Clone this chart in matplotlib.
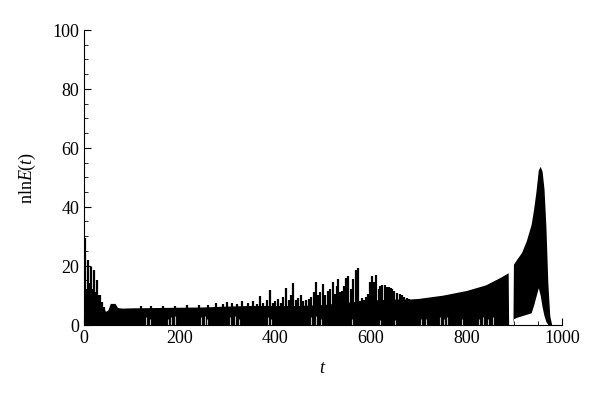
import matplotlib
matplotlib.use('Agg')
import matplotlib.pyplot as plt
from matplotlib.ticker import MultipleLocator

plt.rcParams['font.family'] = 'Liberation Serif'
plt.rcParams['mathtext.fontset'] = 'custom'
plt.rcParams['mathtext.rm'] = 'Liberation Serif'
plt.rcParams['mathtext.it'] = 'Liberation Serif:italic'

# Сплошная чёрная полоса сигнала (верхняя и нижняя огибающие)
env_t = [0, 10, 20, 30, 40, 45, 50, 55, 65, 70, 80, 100, 150, 200, 250, 300,
         350, 400, 450, 500, 540, 580, 620, 660, 682, 700, 750, 800, 840, 870,
         887, 888, 897, 898, 905, 915, 925, 935, 940, 945, 950, 954, 958, 962,
         966, 970, 974, 978, 1000]
env_top = [12, 10, 9, 8, 6, 4.5, 5, 7.2, 7.2, 5.8, 5.6, 5.7, 5.8, 5.9, 6.0,
           6.3, 6.5, 6.5, 6.5, 6.8, 7.5, 8.0, 8.5, 8.7, 8.7, 8.9, 10.0, 11.6,
           13.5, 16.0, 17.6, 0, 0, 20.5, 22.2, 24.5, 28.5, 34.0, 39.0, 45.0,
           52.5, 53.7, 52.0, 46.0, 33.0, 14.0, 3.0, 0, 0]
env_bottom = [0, 0, 0, 0, 0, 0, 0, 0, 0, 0, 0, 0, 0, 0, 0, 0,
              0, 0, 0, 0, 0, 0, 0, 0, 0, 0, 0, 0, 0, 0,
              0, 0, 0, 2.0, 2.5, 3.0, 3.5, 4.0, 6.5, 9.5, 12.5, 10.0, 6.0, 3.0,
              1.0, 0, 0, 0, 0]

# Отдельные пики над полосой
spike_t = [3, 5, 8, 12, 15, 18, 21, 25, 28, 31, 34, 38, 42,
           120, 140, 165, 190, 215, 240, 260, 275, 290, 300,
           310, 320, 330, 342, 354, 361, 368, 375, 382, 388, 395, 400, 406,
           412, 417, 422, 428, 433, 437, 443, 448, 453, 458, 464, 470, 475,
           480, 485, 490, 494, 499, 504, 510, 515, 520, 525, 529, 532, 536,
           539, 544, 548, 553, 558, 562, 568, 573, 577, 582, 586, 590, 593,
           598, 603, 607, 611, 616, 620, 624, 630, 634, 637, 641, 644, 649,
           654, 660, 665, 670, 675, 680]
spike_h = [29.5, 12, 22, 14, 19.5, 12, 18.5, 11, 15, 10, 10, 7.6, 6,
           6.3, 6.2, 6.4, 6.3, 6.5, 6.6, 6.8, 7.2, 7.0, 7.6,
           7.5, 7, 8, 7.5, 8.1, 7, 9.6, 7.5, 8.5, 11.8, 7.5, 8, 8.7,
           7.5, 9.5, 12.3, 8.5, 10, 14.1, 8.5, 9, 10, 8, 8.5, 8.7, 9.5,
           11, 14.3, 10, 11, 13.7, 10, 11.5, 12, 14.3, 10.5, 13, 15.4, 11,
           11.5, 13, 15.7, 16.6, 12, 15.4, 18.6, 19.2, 8.1, 9, 8.5, 9.5, 10.4,
           14.3, 16.4, 14.3, 16.8, 12, 13, 13.4, 13.5, 12.8, 12.6, 12.3, 12.2, 11.5,
           10.9, 10.4, 10, 9.5, 8.9, 8.7]

# Светлые просветы у самого дна
notch_t = [130, 138, 175, 182, 190, 245, 252, 258, 305, 315, 325, 385, 392,
           475, 485, 495, 560, 620, 650, 705, 715, 745, 752, 760, 790, 825,
           835, 845, 855]
notch_h = [2.5, 2.0, 2.0, 2.5, 3.0, 2.5, 3.0, 2.0, 2.5, 3.0, 2.0, 2.5, 2.0,
           2.5, 3.0, 2.0, 2.0, 1.5, 1.5, 2.0, 2.0, 2.5, 2.0, 2.5, 2.0, 2.0,
           2.5, 2.0, 2.5]

fig = plt.figure(figsize=(6, 4.02), dpi=100)
ax = fig.add_axes([0.14, 0.19, 0.797, 0.733])

ax.fill_between(env_t, env_bottom, env_top, color='black', lw=0)
ax.vlines(spike_t, 0, spike_h, color='black', lw=1.6)
ax.vlines(notch_t, 0, notch_h, color='#bbbbbb', lw=0.8)

ax.set_xlim(0, 1000)
ax.set_ylim(0, 100)
ax.spines['top'].set_visible(False)
ax.spines['right'].set_visible(False)
ax.xaxis.set_major_locator(MultipleLocator(200))
ax.xaxis.set_minor_locator(MultipleLocator(50))
ax.yaxis.set_major_locator(MultipleLocator(20))
ax.yaxis.set_minor_locator(MultipleLocator(5))
ax.tick_params(which='major', direction='in', length=5, labelsize=13)
ax.tick_params(which='minor', direction='in', length=3)

ax.set_xlabel('$t$', fontsize=13, labelpad=9)
ax.set_ylabel(r'$\mathrm{nln}E(t)$', fontsize=13, labelpad=10)

fig.savefig('out.png', dpi=100)
